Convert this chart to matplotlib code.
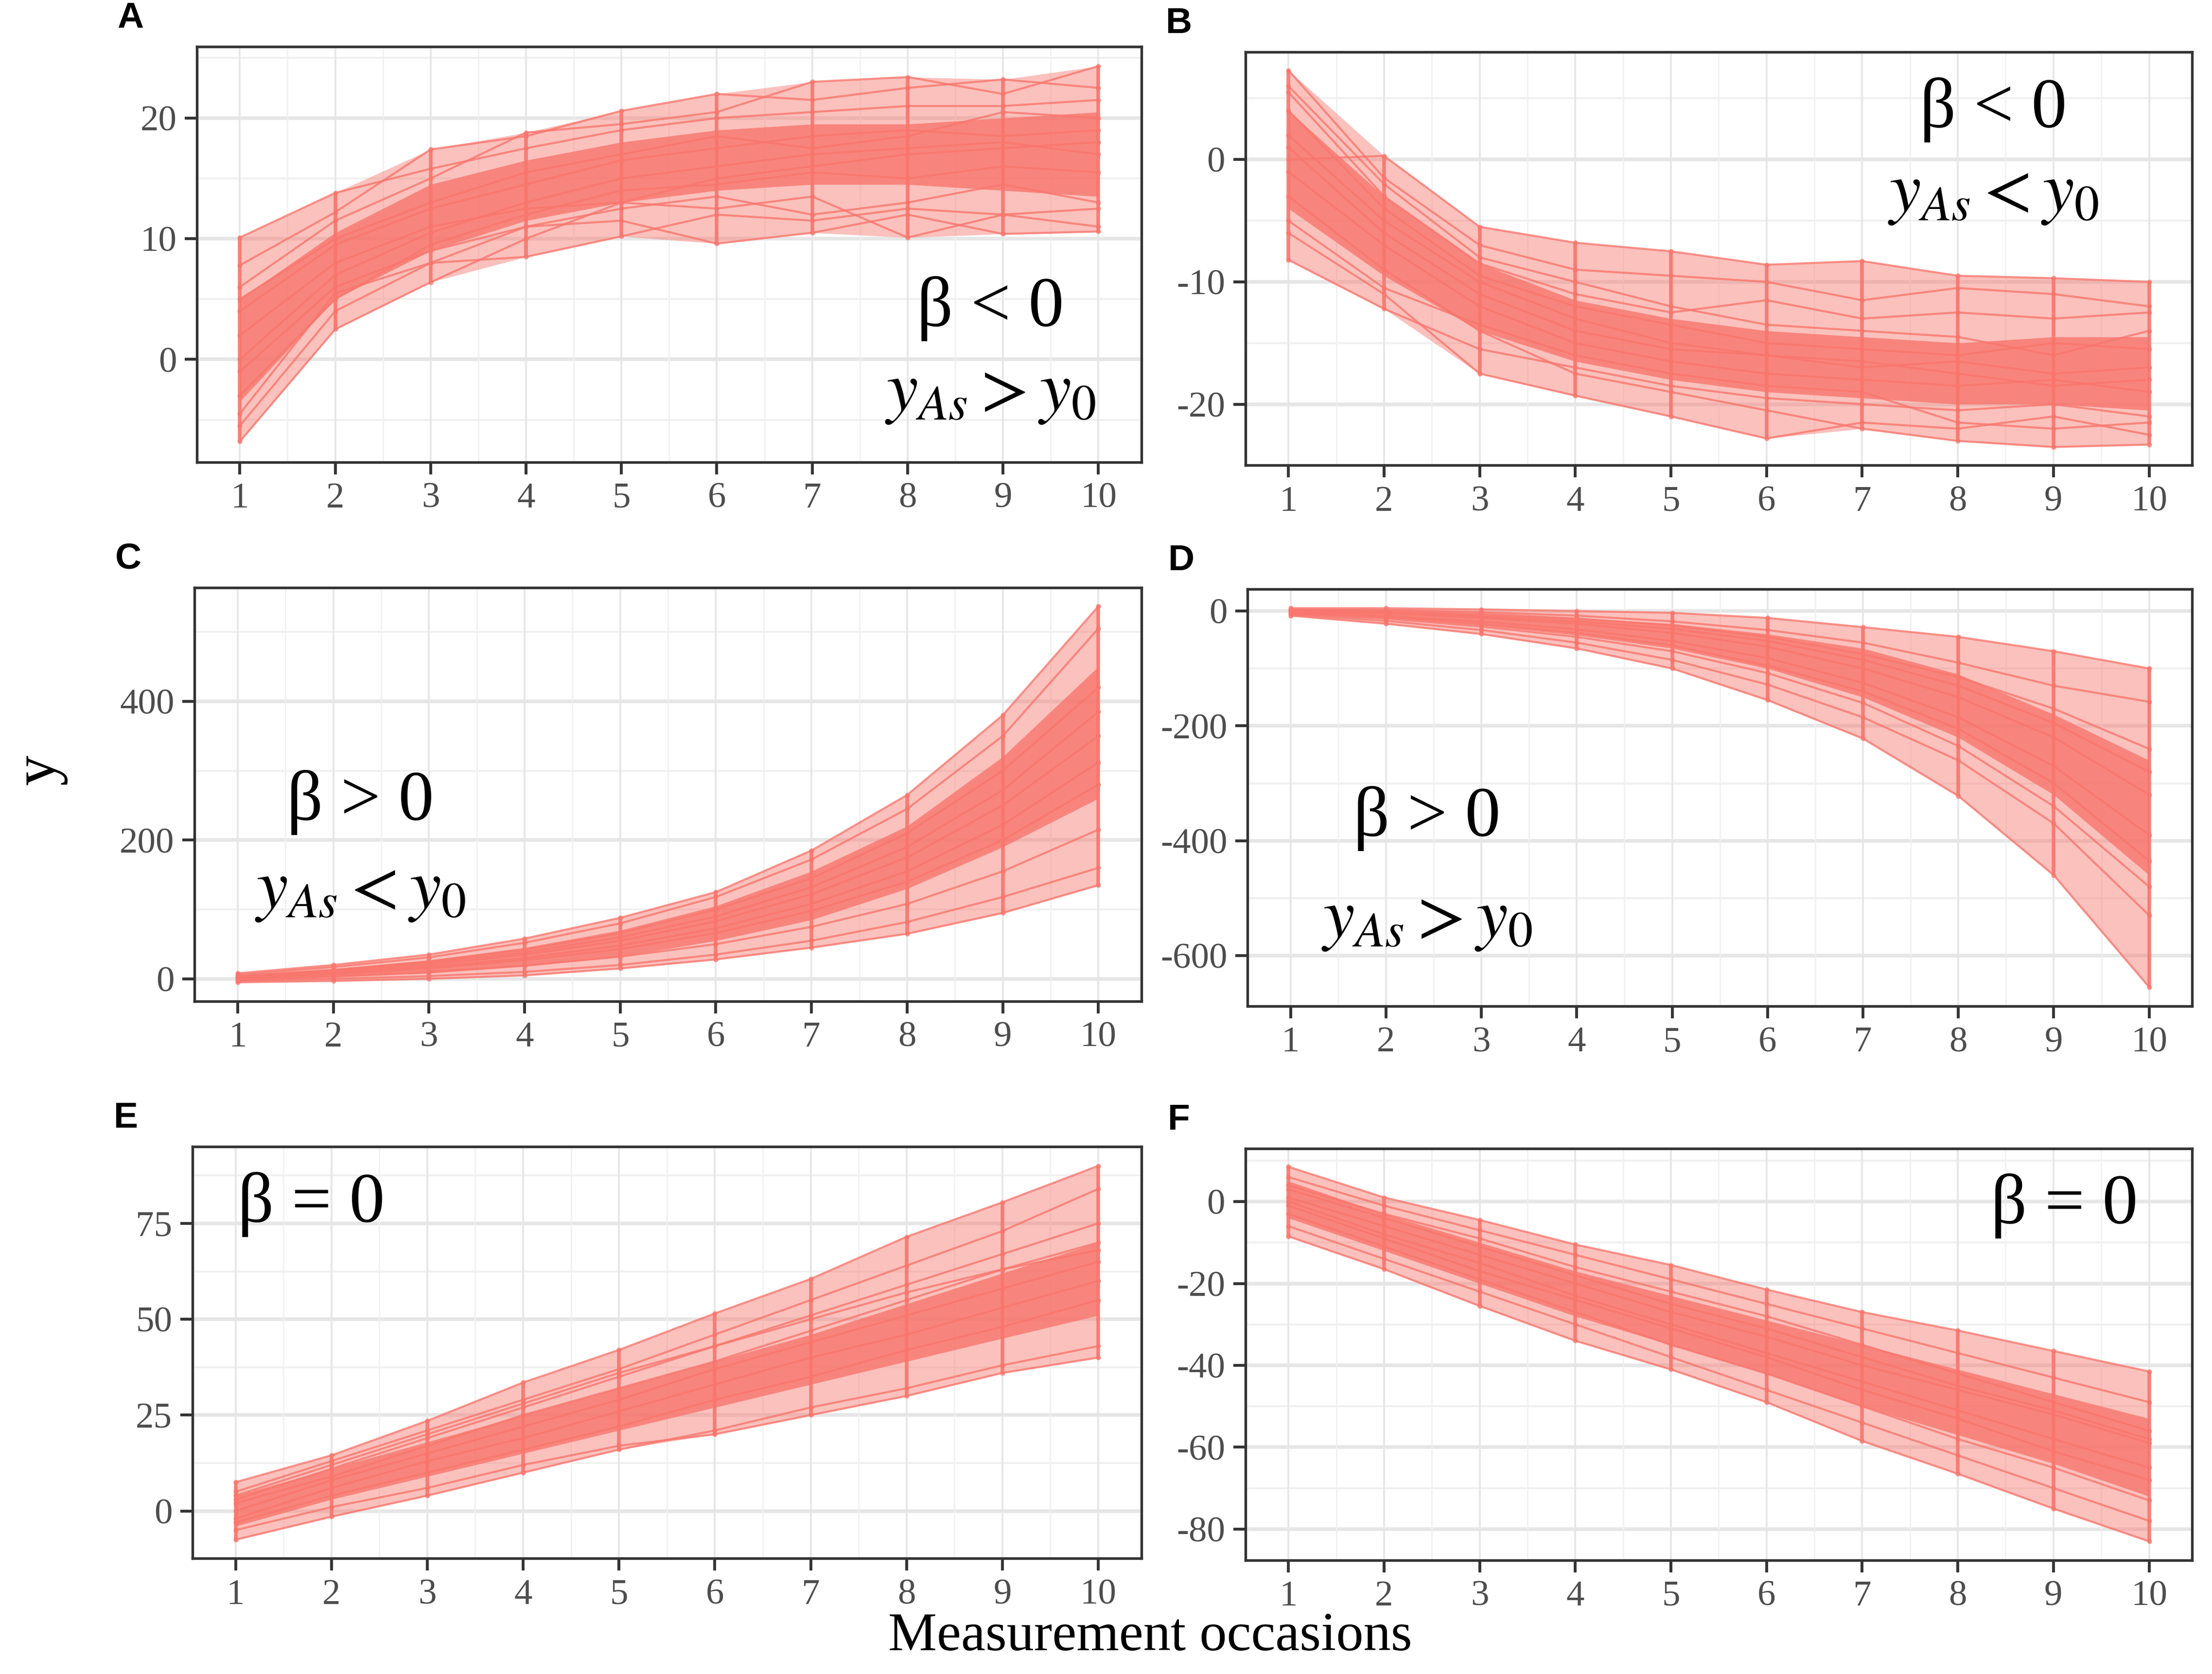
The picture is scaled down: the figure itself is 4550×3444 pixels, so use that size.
import matplotlib
matplotlib.use("Agg")
import matplotlib.pyplot as plt
import numpy as np

plt.rcParams["axes.unicode_minus"] = False

occasions = np.arange(1, 11)
red = "#F8766D"

# Panel A - beta < 0, yAs > y0
a_lo = [-6.8, 2.5, 6.4, 8.5, 10.2, 9.6, 10.5, 10.1, 10.4, 10.6]
a_hi = [10.1, 13.8, 17.4, 18.8, 20.6, 22.0, 23.0, 23.4, 23.2, 24.3]
a_core_lo = [-3.5, 5.0, 9.0, 11.5, 13.0, 14.0, 14.5, 14.5, 14.0, 13.5]
a_core_hi = [5.0, 10.5, 14.5, 16.5, 18.0, 19.0, 19.5, 19.5, 20.0, 20.5]
a_lines = [
    [10.1, 13.8, 15.8, 17.5, 19.0, 20.0, 20.5, 21.0, 21.0, 21.5],
    [7.8, 12.2, 17.4, 18.5, 20.6, 22.0, 21.5, 22.5, 23.2, 22.5],
    [6.0, 11.5, 15.0, 18.8, 19.5, 20.5, 23.0, 23.4, 22.0, 24.3],
    [-6.8, 2.5, 6.4, 10.0, 13.0, 15.0, 16.0, 17.0, 17.5, 18.0],
    [-5.5, 4.0, 8.0, 8.5, 10.2, 12.0, 11.5, 12.5, 12.0, 11.0],
    [-1.0, 6.0, 9.0, 11.0, 11.5, 9.6, 10.5, 12.0, 10.4, 10.6],
    [2.0, 8.0, 11.0, 12.5, 13.0, 12.5, 13.5, 10.1, 12.0, 12.5],
    [4.0, 9.5, 12.5, 14.5, 16.5, 17.5, 18.5, 19.0, 18.5, 19.0],
    [0.0, 7.0, 10.5, 13.0, 15.0, 16.0, 17.0, 17.5, 18.0, 17.0],
    [-3.0, 5.0, 9.5, 12.0, 14.0, 14.5, 15.5, 15.0, 16.0, 15.5],
    [5.0, 10.0, 13.0, 15.5, 17.0, 18.5, 17.5, 18.5, 20.5, 20.0],
    [-4.5, 5.5, 8.0, 11.0, 12.5, 13.5, 12.0, 13.0, 14.5, 13.0],
]

# Panel B - beta < 0, yAs < y0
b_lo = [-8.2, -12.2, -17.5, -19.3, -21.0, -22.8, -22.0, -23.0, -23.5, -23.3]
b_hi = [7.3, 0.3, -5.5, -6.8, -7.5, -8.6, -8.3, -9.5, -9.7, -10.0]
b_core_lo = [-4.0, -9.5, -14.0, -16.5, -18.0, -19.0, -19.5, -20.0, -20.0, -20.5]
b_core_hi = [4.0, -3.0, -8.5, -11.5, -13.0, -14.0, -14.5, -15.0, -14.5, -14.5]
b_lines = [
    [0.0, 0.3, -5.5, -6.8, -7.5, -8.6, -8.3, -9.5, -9.7, -10.0],
    [7.3, -1.5, -7.0, -9.0, -9.5, -10.0, -11.5, -10.5, -11.0, -12.0],
    [5.5, -3.0, -8.5, -11.0, -12.5, -11.5, -13.0, -12.5, -13.0, -12.5],
    [-8.2, -12.2, -15.5, -17.0, -18.5, -19.5, -20.0, -20.5, -20.0, -21.0],
    [-6.0, -11.0, -17.5, -19.3, -21.0, -22.8, -21.5, -22.0, -21.0, -22.5],
    [-3.0, -9.0, -14.0, -17.5, -19.0, -20.5, -22.0, -23.0, -23.5, -23.3],
    [2.0, -5.0, -10.0, -13.0, -15.0, -16.0, -17.0, -16.5, -17.5, -17.0],
    [-1.0, -7.0, -12.0, -15.0, -16.5, -17.5, -18.0, -18.5, -18.0, -19.0],
    [4.0, -4.0, -9.5, -12.0, -13.5, -15.0, -15.5, -16.0, -15.0, -15.5],
    [1.0, -6.0, -11.0, -14.0, -15.5, -16.0, -16.5, -17.5, -18.5, -18.0],
    [-5.0, -10.5, -13.5, -16.0, -17.5, -18.5, -19.0, -21.5, -22.0, -21.5],
    [6.0, -2.0, -8.0, -10.0, -12.0, -13.5, -14.0, -14.5, -16.0, -14.0],
]

# Panel C - beta > 0, yAs < y0
c_lo = [-5, -3, 0, 5, 15, 28, 45, 65, 95, 135]
c_hi = [8, 20, 35, 58, 88, 125, 185, 265, 380, 537]
c_core_lo = [-3, 2, 8, 18, 32, 55, 85, 130, 190, 260]
c_core_hi = [5, 14, 27, 45, 70, 105, 155, 220, 320, 450]
c_lines = [
    [8, 20, 35, 58, 88, 125, 185, 265, 380, 537],
    [6, 17, 31, 52, 80, 118, 172, 245, 350, 505],
    [4, 13, 25, 42, 66, 100, 145, 210, 300, 420],
    [2, 10, 20, 35, 55, 83, 122, 175, 250, 350],
    [0, 7, 15, 27, 43, 66, 98, 140, 200, 280],
    [-2, 4, 10, 19, 32, 50, 75, 108, 155, 215],
    [-5, -3, 0, 5, 15, 28, 45, 65, 95, 135],
    [-3, 0, 4, 10, 20, 35, 55, 82, 118, 160],
    [3, 12, 23, 38, 60, 90, 132, 190, 272, 385],
    [1, 8, 17, 30, 48, 73, 108, 155, 222, 312],
]

# Panel D - beta > 0, yAs > y0
d_lo = [-8, -22, -40, -65, -100, -155, -222, -322, -460, -655]
d_hi = [5, 5, 3, 0, -3, -12, -28, -45, -70, -100]
d_core_lo = [-5, -12, -25, -42, -65, -100, -150, -220, -320, -460]
d_core_hi = [3, 0, -5, -12, -22, -40, -65, -110, -180, -260]
d_lines = [
    [5, 5, 3, 0, -3, -12, -28, -45, -70, -100],
    [3, 2, -2, -8, -18, -33, -55, -90, -130, -158],
    [2, 0, -5, -13, -25, -45, -75, -115, -170, -240],
    [0, -4, -12, -22, -38, -62, -100, -150, -220, -320],
    [-2, -8, -18, -32, -52, -82, -125, -185, -270, -390],
    [-5, -13, -27, -45, -70, -108, -160, -235, -340, -480],
    [-8, -22, -40, -65, -100, -155, -222, -322, -460, -655],
    [-6, -17, -33, -55, -85, -128, -185, -260, -370, -530],
    [1, -2, -9, -18, -31, -52, -85, -130, -195, -280],
    [-3, -10, -22, -38, -60, -95, -140, -205, -300, -435],
]

# Panel E - beta = 0, increasing
e_lo = [-7.5, -1.5, 4, 10, 16, 20, 25, 30, 36, 40]
e_hi = [7.5, 14.5, 23.5, 33.5, 42, 51.5, 60.5, 71.5, 80.5, 90]
e_core_lo = [-4, 3, 9, 15, 21, 27, 33, 39, 45, 51]
e_core_hi = [4, 11, 18, 25, 32, 39, 46, 54, 62, 70]
e_lines = [
    [7.5, 14.5, 23.5, 33.5, 42, 51.5, 60.5, 71.5, 80.5, 90],
    [5, 13, 21, 29, 37, 46, 55, 64, 73, 84],
    [3, 11, 19, 27, 35, 43, 51, 59, 67, 75],
    [0, 8, 15, 22, 29, 37, 44, 51, 58, 65],
    [-3, 4, 10, 16, 22, 29, 35, 42, 48, 55],
    [-7.5, -1.5, 4, 10, 16, 21, 27, 32, 38, 43],
    [-5, 1, 6, 12, 17, 20, 25, 30, 36, 40],
    [2, 9, 17, 25, 32, 39, 47, 55, 63, 70],
    [-2, 6, 13, 19, 26, 33, 40, 46, 53, 60],
    [4, 12, 20, 28, 36, 43, 50, 57, 63, 68],
]

# Panel F - beta = 0, decreasing
f_lo = [-8.5, -16.5, -25.5, -34, -41, -49, -58.5, -66.5, -75, -83]
f_hi = [8.5, 1, -4.5, -10.5, -15.5, -21.5, -27, -31.5, -36.5, -41.5]
f_core_lo = [-4, -12, -20, -28, -35, -42, -50, -57, -64, -72]
f_core_hi = [5, -3, -10, -17, -23, -29, -35, -41, -47, -53]
f_lines = [
    [8.5, 1, -4.5, -10.5, -15.5, -21.5, -27, -31.5, -36.5, -41.5],
    [6, -1, -7, -13, -19, -25, -31, -37, -43, -49],
    [3, -4, -11, -18, -25, -31, -38, -45, -51, -58],
    [0, -8, -15, -23, -30, -37, -44, -51, -58, -65],
    [-3, -11, -19, -27, -35, -42, -50, -58, -65, -73],
    [-8.5, -16.5, -25.5, -34, -41, -49, -58.5, -66.5, -75, -83],
    [-6, -14, -22, -30, -38, -46, -54, -62, -70, -78],
    [1, -6, -13, -20, -27, -33, -40, -46, -52, -59],
    [4, -3, -9, -16, -22, -28, -35, -42, -49, -56],
    [-1, -9, -17, -24, -31, -38, -46, -53, -61, -68],
]

panels = [
    # letter, rect, lo, hi, core lo, core hi, lines, ylim, major, minor, notes
    ("A", [0.089, 0.724, 0.427, 0.248], a_lo, a_hi, a_core_lo, a_core_hi, a_lines,
     (-8.5, 25.9), [0, 10, 20], [-5, 5, 15, 25],
     [("β < 0", 0.84, 0.37), ("$y_{As} > y_0$", 0.84, 0.17)]),
    ("B", [0.563, 0.722, 0.428, 0.247], b_lo, b_hi, b_core_lo, b_core_hi, b_lines,
     (-25.0, 8.8), [-20, -10, 0], [-25, -15, -5, 5],
     [("β < 0", 0.79, 0.86), ("$y_{As} < y_0$", 0.79, 0.66)]),
    ("C", [0.088, 0.402, 0.428, 0.247], c_lo, c_hi, c_core_lo, c_core_hi, c_lines,
     (-32, 564), [0, 200, 400], [100, 300, 500],
     [("β > 0", 0.175, 0.48), ("$y_{As} < y_0$", 0.175, 0.27)]),
    ("D", [0.564, 0.399, 0.427, 0.249], d_lo, d_hi, d_core_lo, d_core_hi, d_lines,
     (-688, 38), [-600, -400, -200, 0], [-500, -300, -100],
     [("β > 0", 0.19, 0.45), ("$y_{As} > y_0$", 0.19, 0.21)]),
    ("E", [0.087, 0.069, 0.429, 0.246], e_lo, e_hi, e_core_lo, e_core_hi, e_lines,
     (-12.4, 95), [0, 25, 50, 75], [-12.5, 12.5, 37.5, 62.5, 87.5],
     [("β = 0", 0.125, 0.86)]),
    ("F", [0.563, 0.068, 0.428, 0.246], f_lo, f_hi, f_core_lo, f_core_hi, f_lines,
     (-87.6, 13), [-80, -60, -40, -20, 0], [-70, -50, -30, -10, 10],
     [("β = 0", 0.865, 0.86)]),
]

fig = plt.figure(figsize=(4550 / 300, 3444 / 300), dpi=300)

for letter, rect, lo, hi, clo, chi, lines, ylim, major, minor, notes in panels:
    ax = fig.add_axes(rect)
    ax.set_xlim(0.55, 10.45)
    ax.set_ylim(*ylim)

    # grid like theme_bw
    for y in major:
        ax.axhline(y, color="#E6E6E6", lw=1.8, zorder=0)
    for y in minor:
        ax.axhline(y, color="#F0F0F0", lw=0.9, zorder=0)
    for x in occasions:
        ax.axvline(x, color="#E6E6E6", lw=0.9, zorder=0)
    for x in occasions[:-1] + 0.5:
        ax.axvline(x, color="#F0F0F0", lw=0.6, zorder=0)

    ax.fill_between(occasions, lo, hi, color=red, alpha=0.45, lw=0, zorder=1)
    ax.fill_between(occasions, clo, chi, color=red, alpha=0.8, lw=0, zorder=2)
    for traj in lines:
        ax.plot(occasions, traj, color=red, lw=1.0, alpha=0.8, zorder=3,
                marker="o", ms=2.4, mew=0)
    ax.vlines(occasions, lo, hi, color=red, lw=1.8, alpha=0.9, zorder=3)

    ax.set_xticks(occasions)
    ax.set_yticks(major)
    ax.tick_params(axis="both", direction="out", length=6, width=1.4,
                   color="#333333", labelsize=18, labelcolor="#4D4D4D", pad=4)
    for lab in ax.get_xticklabels() + ax.get_yticklabels():
        lab.set_family("Liberation Serif")
    for s in ax.spines.values():
        s.set_color("#333333")
        s.set_linewidth(1.3)

    for txt, tx, ty in notes:
        if txt.startswith("$"):
            ax.text(tx, ty, txt, transform=ax.transAxes, ha="center", va="center",
                    fontsize=35, math_fontfamily="stix", zorder=5)
        else:
            ax.text(tx, ty, txt, transform=ax.transAxes, ha="center", va="center",
                    fontsize=35, family="Liberation Serif", zorder=5)

    fig.text(rect[0] - 0.03, rect[1] + rect[3] + 0.017, letter, fontsize=18,
             fontweight="bold", family="Liberation Sans", ha="center", va="center")

fig.text(0.018, 0.54, "y", fontsize=30, family="Liberation Serif", rotation=90,
         ha="center", va="center")
fig.text(0.52, 0.022, "Measurement occasions", fontsize=27,
         family="Liberation Serif", ha="center", va="center")

fig.savefig("out.png", dpi=300)
